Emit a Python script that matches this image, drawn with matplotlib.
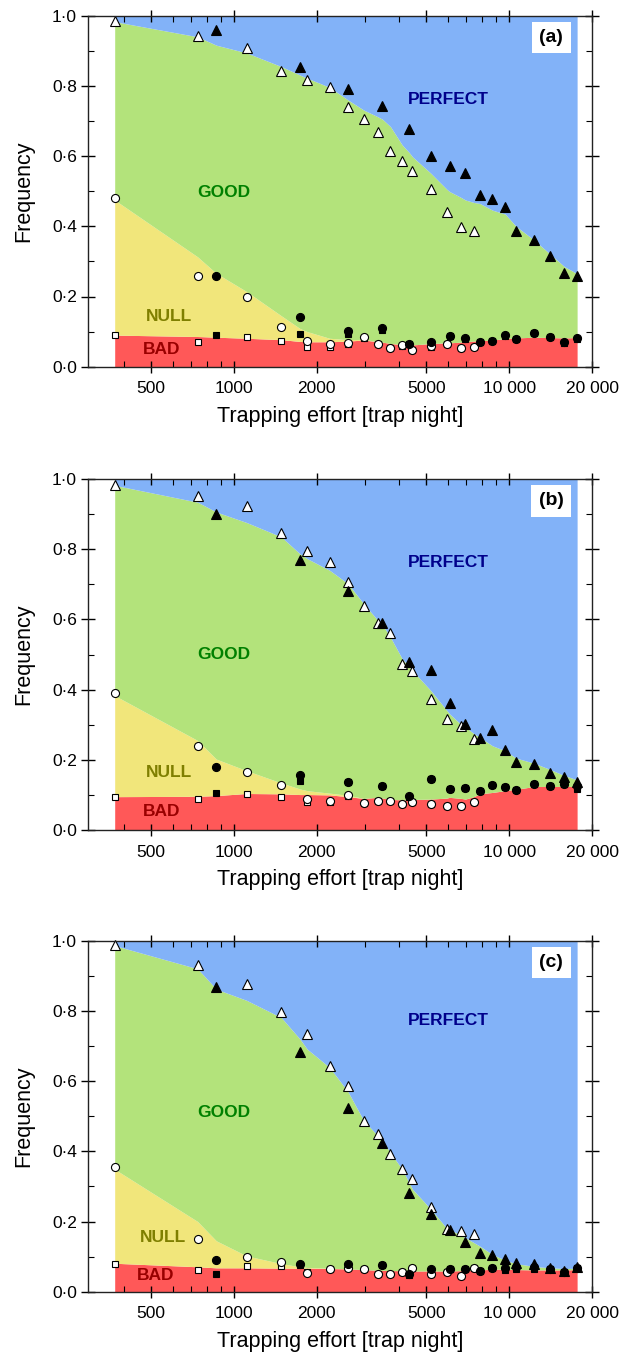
import matplotlib
matplotlib.use('Agg')
import matplotlib.pyplot as plt
from matplotlib.ticker import FixedLocator, FuncFormatter, NullFormatter

plt.rcParams['font.family'] = ['Liberation Sans', 'DejaVu Sans']

# ---------------- data ----------------
x_open = [370, 740, 1115, 1490, 1850, 2230, 2600, 2970, 3340, 3710, 4090, 4460, 5200, 5950, 6700, 7440]
x_filled = [865, 1740, 2600, 3470, 4340, 5200, 6080, 6940, 7830, 8700, 9670, 10600, 12360, 14130, 15890, 17660]
x_band = [370, 740, 865, 1115, 1490, 1740, 1850, 2230, 2600, 2970, 3340, 3470, 3710, 4090, 4340, 4460,
          5200, 5950, 6080, 6700, 6940, 7440, 7830, 8700, 9670, 10600, 12360, 14130, 15890, 17660]

# panel (a)
tri_open_a = [0.986, 0.943, 0.907, 0.843, 0.818, 0.798, 0.739, 0.706, 0.670, 0.614, 0.587, 0.558, 0.505, 0.440, 0.399, 0.387]
tri_fill_a = [0.959, 0.855, 0.791, 0.744, 0.677, 0.600, 0.572, 0.553, 0.488, 0.477, 0.455, 0.386, 0.360, 0.314, 0.267, 0.258]
cir_open_a = [0.480, 0.257, 0.199, 0.113, 0.074, 0.066, 0.068, 0.086, 0.066, 0.054, 0.061, 0.048, 0.059, 0.066, 0.054, 0.056]
cir_fill_a = [0.257, 0.142, 0.102, 0.109, 0.066, 0.069, 0.088, 0.083, 0.071, 0.073, 0.089, 0.079, 0.095, 0.085, 0.069, 0.081]
sq_open_a = [0.091, 0.070, 0.084, 0.073, 0.057, 0.055, 0.066, 0.081, 0.066, 0.054, 0.059, 0.048, 0.057, 0.066, 0.054, 0.056]
sq_fill_a = [0.091, 0.092, 0.093, 0.104, 0.064, 0.067, 0.088, 0.080, 0.070, 0.073, 0.088, 0.080, 0.095, 0.085, 0.068, 0.080]
good_a = [0.983, 0.940, 0.916, 0.894, 0.855, 0.831, 0.822, 0.796, 0.760, 0.731, 0.712, 0.705, 0.684, 0.632, 0.610, 0.598,
          0.551, 0.505, 0.499, 0.482, 0.475, 0.468, 0.465, 0.446, 0.435, 0.400, 0.360, 0.320, 0.285, 0.265]
null_a = [0.475, 0.313, 0.266, 0.214, 0.145, 0.109, 0.100, 0.081, 0.077, 0.078, 0.071, 0.070, 0.066, 0.063, 0.062, 0.062,
          0.066, 0.068, 0.068, 0.070, 0.071, 0.073, 0.074, 0.076, 0.080, 0.082, 0.084, 0.083, 0.082, 0.083]
bad_a = [0.090, 0.086, 0.084, 0.081, 0.077, 0.072, 0.071, 0.071, 0.073, 0.076, 0.071, 0.070, 0.066, 0.063, 0.062, 0.062,
         0.066, 0.068, 0.068, 0.070, 0.071, 0.073, 0.074, 0.076, 0.080, 0.082, 0.084, 0.083, 0.082, 0.083]

# panel (b)
tri_open_b = [0.984, 0.952, 0.923, 0.846, 0.796, 0.764, 0.707, 0.639, 0.590, 0.561, 0.473, 0.453, 0.374, 0.317, 0.295, 0.258]
tri_fill_b = [0.900, 0.770, 0.681, 0.590, 0.478, 0.457, 0.363, 0.303, 0.261, 0.286, 0.229, 0.195, 0.188, 0.162, 0.152, 0.137]
cir_open_b = [0.390, 0.238, 0.166, 0.129, 0.087, 0.082, 0.099, 0.078, 0.082, 0.082, 0.074, 0.081, 0.074, 0.067, 0.069, 0.079]
cir_fill_b = [0.180, 0.158, 0.138, 0.124, 0.096, 0.144, 0.116, 0.120, 0.111, 0.129, 0.122, 0.114, 0.130, 0.126, 0.130, 0.125]
sq_open_b = [0.094, 0.088, 0.103, 0.093, 0.079, 0.079, 0.098, 0.076, 0.082, 0.082, 0.074, 0.081, 0.074, 0.067, 0.069, 0.079]
sq_fill_b = [0.105, 0.141, 0.138, 0.124, 0.093, 0.144, 0.116, 0.120, 0.111, 0.129, 0.122, 0.113, 0.130, 0.124, 0.130, 0.117]
good_b = [0.982, 0.934, 0.906, 0.876, 0.835, 0.787, 0.773, 0.740, 0.702, 0.644, 0.597, 0.585, 0.549, 0.488, 0.465, 0.454,
          0.397, 0.340, 0.331, 0.300, 0.293, 0.275, 0.264, 0.240, 0.226, 0.205, 0.190, 0.172, 0.155, 0.143]
null_b = [0.383, 0.255, 0.202, 0.169, 0.134, 0.117, 0.112, 0.105, 0.099, 0.090, 0.093, 0.091, 0.087, 0.086, 0.086, 0.087,
          0.088, 0.091, 0.093, 0.090, 0.088, 0.095, 0.103, 0.107, 0.112, 0.116, 0.124, 0.124, 0.124, 0.124]
bad_b = [0.095, 0.096, 0.098, 0.104, 0.103, 0.101, 0.101, 0.100, 0.095, 0.090, 0.093, 0.091, 0.087, 0.086, 0.086, 0.087,
         0.088, 0.091, 0.093, 0.090, 0.088, 0.095, 0.103, 0.107, 0.112, 0.116, 0.124, 0.124, 0.124, 0.124]

# panel (c)
tri_open_c = [0.989, 0.931, 0.878, 0.797, 0.735, 0.642, 0.587, 0.487, 0.448, 0.392, 0.350, 0.320, 0.242, 0.180, 0.172, 0.165]
tri_fill_c = [0.867, 0.684, 0.523, 0.424, 0.280, 0.220, 0.176, 0.143, 0.110, 0.104, 0.092, 0.081, 0.079, 0.067, 0.060, 0.071]
cir_open_c = [0.355, 0.150, 0.100, 0.085, 0.054, 0.064, 0.068, 0.064, 0.050, 0.050, 0.057, 0.068, 0.050, 0.055, 0.046, 0.067]
cir_fill_c = [0.089, 0.078, 0.078, 0.076, 0.050, 0.064, 0.064, 0.064, 0.059, 0.068, 0.067, 0.069, 0.069, 0.064, 0.055, 0.067]
sq_open_c = [0.079, 0.061, 0.073, 0.073, 0.055, 0.064, 0.070, 0.064, 0.050, 0.050, 0.057, 0.068, 0.050, 0.055, 0.046, 0.067]
sq_fill_c = [0.051, 0.076, 0.073, 0.076, 0.049, 0.059, 0.064, 0.064, 0.059, 0.068, 0.062, 0.064, 0.064, 0.064, 0.057, 0.067]
good_c = [0.986, 0.920, 0.862, 0.830, 0.781, 0.720, 0.691, 0.639, 0.570, 0.487, 0.444, 0.430, 0.396, 0.349, 0.310, 0.292,
          0.235, 0.180, 0.178, 0.160, 0.154, 0.140, 0.130, 0.106, 0.090, 0.080, 0.072, 0.068, 0.066, 0.067]
null_c = [0.349, 0.200, 0.145, 0.102, 0.080, 0.071, 0.069, 0.067, 0.065, 0.063, 0.061, 0.061, 0.060, 0.060, 0.059, 0.059,
          0.059, 0.059, 0.059, 0.060, 0.060, 0.061, 0.062, 0.064, 0.064, 0.063, 0.062, 0.062, 0.062, 0.063]
bad_c = [0.081, 0.071, 0.068, 0.068, 0.067, 0.067, 0.067, 0.066, 0.065, 0.063, 0.061, 0.061, 0.060, 0.060, 0.059, 0.059,
         0.059, 0.059, 0.059, 0.060, 0.060, 0.061, 0.062, 0.064, 0.064, 0.063, 0.062, 0.062, 0.062, 0.063]

panel_labels = ['(a)', '(b)', '(c)']
category_names = ['PERFECT', 'GOOD', 'NULL', 'BAD']
x_major = [500, 1000, 2000, 5000, 10000, 20000]
x_major_labels = ['500', '1000', '2000', '5000', '10 000', '20 000']
x_minor = [400, 600, 700, 800, 900, 3000, 4000, 6000, 7000, 8000, 9000]
y_major = [0.0, 0.2, 0.4, 0.6, 0.8, 1.0]
y_minor = [0.1, 0.3, 0.5, 0.7, 0.9]

# ---------------- style ----------------
C_PERFECT = '#82b2f8'
C_GOOD = '#b3e37b'
C_NULL = '#f1e67b'
C_BAD = '#ff5858'
T_PERFECT = '#00008b'
T_GOOD = '#008000'
T_NULL = '#7f7f00'
T_BAD = '#990000'

panels = [
    dict(tri_o=tri_open_a, tri_f=tri_fill_a, cir_o=cir_open_a, cir_f=cir_fill_a, sq_o=sq_open_a, sq_f=sq_fill_a,
         good=good_a, null=null_a, bad=bad_a,
         txt=[(6000, 0.760), (918, 0.496), (584, 0.142), (549, 0.050)]),
    dict(tri_o=tri_open_b, tri_f=tri_fill_b, cir_o=cir_open_b, cir_f=cir_fill_b, sq_o=sq_open_b, sq_f=sq_fill_b,
         good=good_b, null=null_b, bad=bad_b,
         txt=[(6000, 0.763), (918, 0.499), (584, 0.163), (549, 0.052)]),
    dict(tri_o=tri_open_c, tri_f=tri_fill_c, cir_o=cir_open_c, cir_f=cir_fill_c, sq_o=sq_open_c, sq_f=sq_fill_c,
         good=good_c, null=null_c, bad=bad_c,
         txt=[(6000, 0.772), (918, 0.510), (553, 0.154), (523, 0.045)]),
]

W, H = 625, 1357
fig = plt.figure(figsize=(W / 100, H / 100), dpi=100)
left = 88 / W
width = (592 - 88) / W
height = 351 / H
bottoms = [(H - 366.7) / H, (H - 830) / H, (H - 1291.7) / H]

ydot = FuncFormatter(lambda v, p: ('%.1f' % v).replace('.', '\u00b7'))


def xfmt(v, pos):
    k = int(round(v))
    return x_major_labels[x_major.index(k)] if k in x_major else ''


for i, (p, b) in enumerate(zip(panels, bottoms)):
    ax = fig.add_axes([left, b, width, height])
    ax.set_xscale('log')
    ax.set_xlim(296, 20000)
    ax.set_ylim(0, 1.0)

    ax.fill_between(x_band, 0, p['bad'], color=C_BAD, lw=0, zorder=1)
    ax.fill_between(x_band, p['bad'], p['null'], color=C_NULL, lw=0, zorder=1)
    ax.fill_between(x_band, p['null'], p['good'], color=C_GOOD, lw=0, zorder=1)
    ax.fill_between(x_band, p['good'], 1.0, color=C_PERFECT, lw=0, zorder=1)

    mk = dict(ls='none', mec='black', mew=0.8, zorder=3, clip_on=False)
    ax.plot(x_open, p['sq_o'], marker='s', ms=5.0, mfc='white', **mk)
    ax.plot(x_filled, p['sq_f'], marker='s', ms=5.0, mfc='black', **mk)
    ax.plot(x_open, p['cir_o'], marker='o', ms=5.8, mfc='white', **mk)
    ax.plot(x_filled, p['cir_f'], marker='o', ms=5.8, mfc='black', **mk)
    ax.plot(x_open, p['tri_o'], marker='^', ms=6.8, mfc='white', **mk)
    ax.plot(x_filled, p['tri_f'], marker='^', ms=6.8, mfc='black', **mk)

    cols = [T_PERFECT, T_GOOD, T_NULL, T_BAD]
    for name, (tx, ty), c in zip(category_names, p['txt'], cols):
        ax.text(tx, ty, name, color=c, fontsize=12.5, fontweight='bold', ha='center', va='center', zorder=4)

    ax.text(0.919, 0.938, panel_labels[i], transform=ax.transAxes, fontsize=14, fontweight='bold',
            ha='center', va='center', zorder=5,
            bbox=dict(boxstyle='square,pad=0.38', facecolor='white', edgecolor='none'))

    ax.xaxis.set_major_locator(FixedLocator(x_major))
    ax.xaxis.set_major_formatter(FuncFormatter(xfmt))
    ax.xaxis.set_minor_locator(FixedLocator(x_minor))
    ax.xaxis.set_minor_formatter(NullFormatter())
    ax.yaxis.set_major_locator(FixedLocator(y_major))
    ax.yaxis.set_minor_locator(FixedLocator(y_minor))
    ax.yaxis.set_major_formatter(ydot)

    ax.tick_params(axis='x', which='major', direction='inout', length=9, width=1.0, top=True, labelsize=12.5, pad=6)
    ax.tick_params(axis='x', which='minor', direction='in', length=4, width=0.8, top=True)
    ax.tick_params(axis='y', which='major', direction='inout', length=10, width=1.0, right=True, labelsize=12.5, pad=3)
    ax.tick_params(axis='y', which='minor', direction='in', length=4, width=0.8, right=True)
    for s in ax.spines.values():
        s.set_linewidth(1.0)
        s.set_color('#222222')
        s.set_zorder(6)

    ax.set_xlabel('Trapping effort [trap night]', fontsize=15.5, labelpad=7)
    ax.set_ylabel('Frequency', fontsize=15.5, labelpad=13)

fig.savefig('out.png', dpi=100)
